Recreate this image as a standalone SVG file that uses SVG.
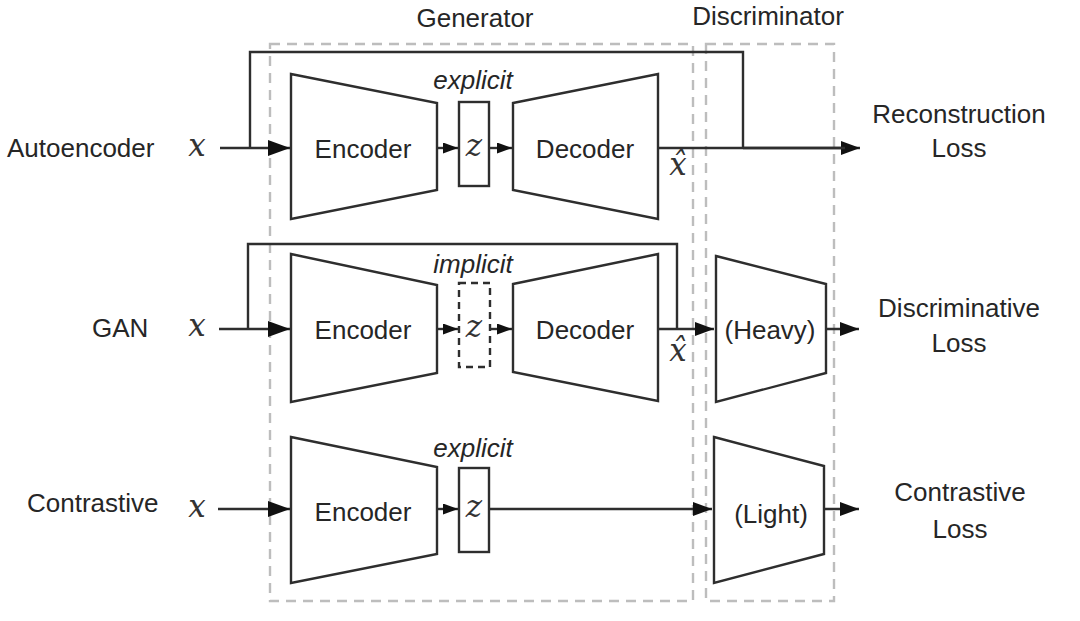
<svg xmlns="http://www.w3.org/2000/svg" width="1080" height="621" viewBox="0 0 1080 621">
<style>
  .t{font-family:"Liberation Sans",Arial,sans-serif;font-size:26px;fill:#262626}
  .it{font-family:"Liberation Sans",Arial,sans-serif;font-size:26px;font-style:italic;fill:#262626}
  .m{font-family:"DejaVu Serif","Liberation Serif",serif;font-size:31px;font-style:italic;fill:#333}
  .c{text-anchor:middle}
  .shape{fill:#fff;stroke:#2e2e2e;stroke-width:2.4;stroke-linejoin:miter}
  .dz{fill:#fff;stroke:#2e2e2e;stroke-width:2.4;stroke-dasharray:7 5}
  .grp{fill:none;stroke:#bdbdbd;stroke-width:2.4;stroke-dasharray:10 7}
  .ln{fill:none;stroke:#2e2e2e;stroke-width:2.4}
</style>
<defs>
  <marker id="big" markerUnits="userSpaceOnUse" markerWidth="22" markerHeight="16" refX="22" refY="8" orient="auto">
    <path d="M0,0 L22,8 L0,16 z" fill="#111"/>
  </marker>
  <marker id="med" markerUnits="userSpaceOnUse" markerWidth="19" markerHeight="14" refX="19" refY="7" orient="auto">
    <path d="M0,0 L19,7 L0,14 z" fill="#111"/>
  </marker>
  <marker id="sm" markerUnits="userSpaceOnUse" markerWidth="15" markerHeight="11" refX="15" refY="5.5" orient="auto">
    <path d="M0,0 L15,5.5 L0,11 z" fill="#111"/>
  </marker>
</defs>
<rect width="1080" height="621" fill="#fff"/>

<g id="generator-box">
  <rect class="grp" x="270" y="44" width="423" height="557"/>
  <text class="t c" x="475" y="27">Generator</text>
</g>
<g id="discriminator-box">
  <rect class="grp" x="706" y="44" width="128" height="557"/>
  <text class="t c" x="768" y="25">Discriminator</text>
</g>

<g id="labels">
  <text class="t" x="7" y="157">Autoencoder</text>
  <text class="t" x="92" y="337">GAN</text>
  <text class="t" x="27" y="512">Contrastive</text>
  <text class="m c" x="197" y="156">x</text>
  <text class="m c" x="197" y="336">x</text>
  <text class="m c" x="197" y="517">x</text>
</g>

<g id="connectors">
  <!-- row 1 -->
  <line class="ln" x1="220" y1="148" x2="290" y2="148" marker-end="url(#big)"/>
  <polyline class="ln" points="250,148 250,52 743,52 743,148"/>
  <line class="ln" x1="437" y1="148" x2="458" y2="148" marker-end="url(#sm)"/>
  <line class="ln" x1="489" y1="148" x2="512" y2="148" marker-end="url(#sm)"/>
  <line class="ln" x1="658" y1="148" x2="860" y2="148" marker-end="url(#med)"/>
  <line class="ln" x1="743" y1="148" x2="845" y2="148" stroke-width="3.2"/>
  <!-- row 2 -->
  <line class="ln" x1="219" y1="329" x2="290" y2="329" marker-end="url(#big)"/>
  <polyline class="ln" points="248,329 248,244 677,244 677,329"/>
  <line class="ln" x1="437" y1="329" x2="458" y2="329" marker-end="url(#sm)"/>
  <line class="ln" x1="490" y1="329" x2="512" y2="329" marker-end="url(#sm)"/>
  <line class="ln" x1="658" y1="329" x2="714" y2="329" marker-end="url(#med)"/>
  <line class="ln" x1="826" y1="329" x2="859" y2="329" marker-end="url(#med)"/>
  <!-- row 3 -->
  <line class="ln" x1="218" y1="509" x2="290" y2="509" marker-end="url(#big)"/>
  <line class="ln" x1="437" y1="509" x2="458" y2="509" marker-end="url(#sm)"/>
  <line class="ln" x1="489" y1="509" x2="712" y2="509" marker-end="url(#med)"/>
  <line class="ln" x1="824" y1="509" x2="859" y2="509" marker-end="url(#med)"/>
</g>

<!-- Row 1: Autoencoder -->
<g id="ae-encoder">
  <polygon class="shape" points="291,74 437,103 437,190 291,219"/>
  <text class="t c" x="363" y="158">Encoder</text>
</g>
<g id="ae-z">
  <rect class="shape" x="459" y="102" width="30" height="84"/>
  <text class="m c" x="474" y="156">z</text>
  <text class="it c" x="473" y="89">explicit</text>
</g>
<g id="ae-decoder">
  <polygon class="shape" points="513,103 658,74 658,219 513,190"/>
  <text class="t c" x="585" y="158">Decoder</text>
  <text class="m c" x="678" y="175">x̂</text>
</g>
<g id="ae-loss">
  <text class="t c" x="959" y="123">Reconstruction</text>
  <text class="t c" x="959" y="157">Loss</text>
</g>

<!-- Row 2: GAN -->
<g id="gan-encoder">
  <polygon class="shape" points="291,254 437,285 437,373 291,402"/>
  <text class="t c" x="363" y="339">Encoder</text>
</g>
<g id="gan-z">
  <rect class="dz" x="459" y="283" width="31" height="84"/>
  <text class="m c" x="474" y="337">z</text>
  <text class="it c" x="473" y="273">implicit</text>
</g>
<g id="gan-decoder">
  <polygon class="shape" points="513,284 658,254 658,401 513,372"/>
  <text class="t c" x="585" y="339">Decoder</text>
  <text class="m c" x="678" y="361">x̂</text>
</g>
<g id="gan-disc">
  <polygon class="shape" points="716,256 826,284 826,373 716,402"/>
  <text class="t c" x="770" y="339">(Heavy)</text>
</g>
<g id="gan-loss">
  <text class="t c" x="959" y="317">Discriminative</text>
  <text class="t c" x="959" y="352">Loss</text>
</g>

<!-- Row 3: Contrastive -->
<g id="cl-encoder">
  <polygon class="shape" points="291,437 437,467 437,554 291,583"/>
  <text class="t c" x="363" y="521">Encoder</text>
</g>
<g id="cl-z">
  <rect class="shape" x="459" y="468" width="30" height="84"/>
  <text class="m c" x="474" y="517">z</text>
  <text class="it c" x="473" y="457">explicit</text>
</g>
<g id="cl-disc">
  <polygon class="shape" points="714,437 824,466 824,554 714,583"/>
  <text class="t c" x="771" y="523">(Light)</text>
</g>
<g id="cl-loss">
  <text class="t c" x="960" y="501">Contrastive</text>
  <text class="t c" x="960" y="538">Loss</text>
</g>
</svg>
